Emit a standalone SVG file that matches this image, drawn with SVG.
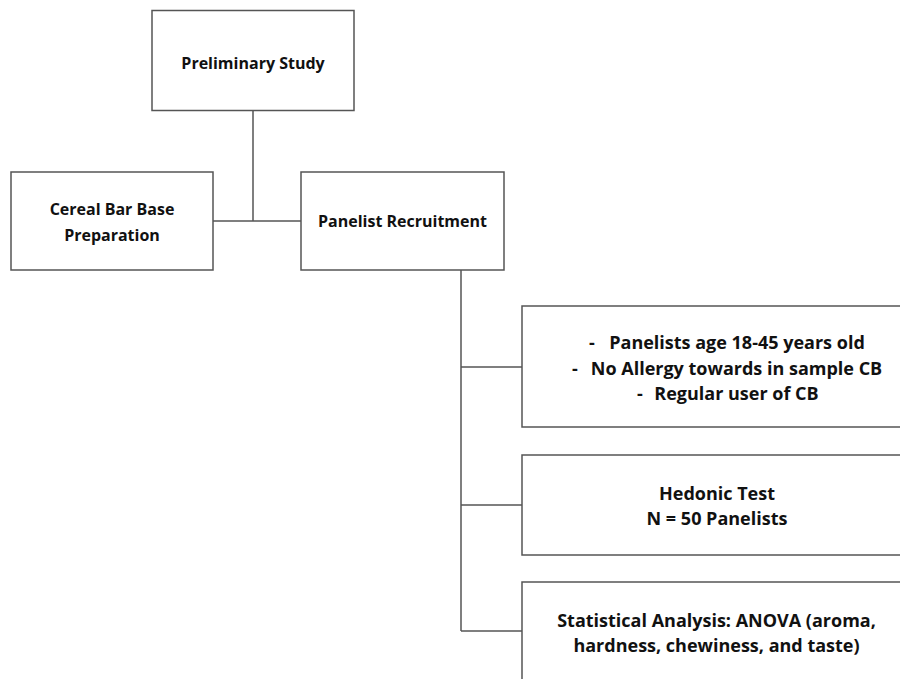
<svg xmlns="http://www.w3.org/2000/svg" width="900" height="679" viewBox="0 0 900 679">
<style>
.box{fill:#ffffff;stroke:#555555;stroke-width:1.5}
.ln{fill:none;stroke:#555555;stroke-width:1.5}
text{font-family:"Open Sans","Liberation Sans",sans-serif;font-weight:700;font-size:16px;fill:#111111;text-anchor:middle}
.r{font-size:18px}
.d{text-anchor:start}
</style>
<rect width="900" height="679" fill="#ffffff"/>
<g id="connectors">
<path class="ln" d="M253 110V221M213 221H301"/>
<path class="ln" d="M461 270V631M461 367H522M461 505H522M461 631H522"/>
</g>
<g id="preliminary">
<rect class="box" x="152" y="10.5" width="202" height="100"/>
<text x="253" y="69">Preliminary Study</text>
</g>
<g id="cereal">
<rect class="box" x="11" y="172" width="202" height="98"/>
<text x="112" y="215">Cereal Bar Base</text>
<text x="112" y="241">Preparation</text>
</g>
<g id="panelist">
<rect class="box" x="301" y="172" width="203" height="98"/>
<text x="402.5" y="227">Panelist Recruitment</text>
</g>
<g id="criteria">
<rect class="box" x="522" y="306" width="400" height="121"/>
<text class="r d" x="589" y="349">-</text>
<text class="r" x="737" y="349">Panelists age 18-45 years old</text>
<text class="r d" x="572" y="375">-</text>
<text class="r" x="736.5" y="375">No Allergy towards in sample CB</text>
<text class="r d" x="637" y="400">-</text>
<text class="r" x="736.5" y="400">Regular user of CB</text>
</g>
<g id="hedonic">
<rect class="box" x="522" y="455" width="400" height="100"/>
<text class="r" x="717" y="500">Hedonic Test</text>
<text class="r" x="717" y="525">N = 50 Panelists</text>
</g>
<g id="statistical">
<rect class="box" x="522" y="582" width="400" height="120"/>
<text class="r" x="716.5" y="627">Statistical Analysis: ANOVA (aroma,</text>
<text class="r" x="716.5" y="652">hardness, chewiness, and taste)</text>
</g>
</svg>
